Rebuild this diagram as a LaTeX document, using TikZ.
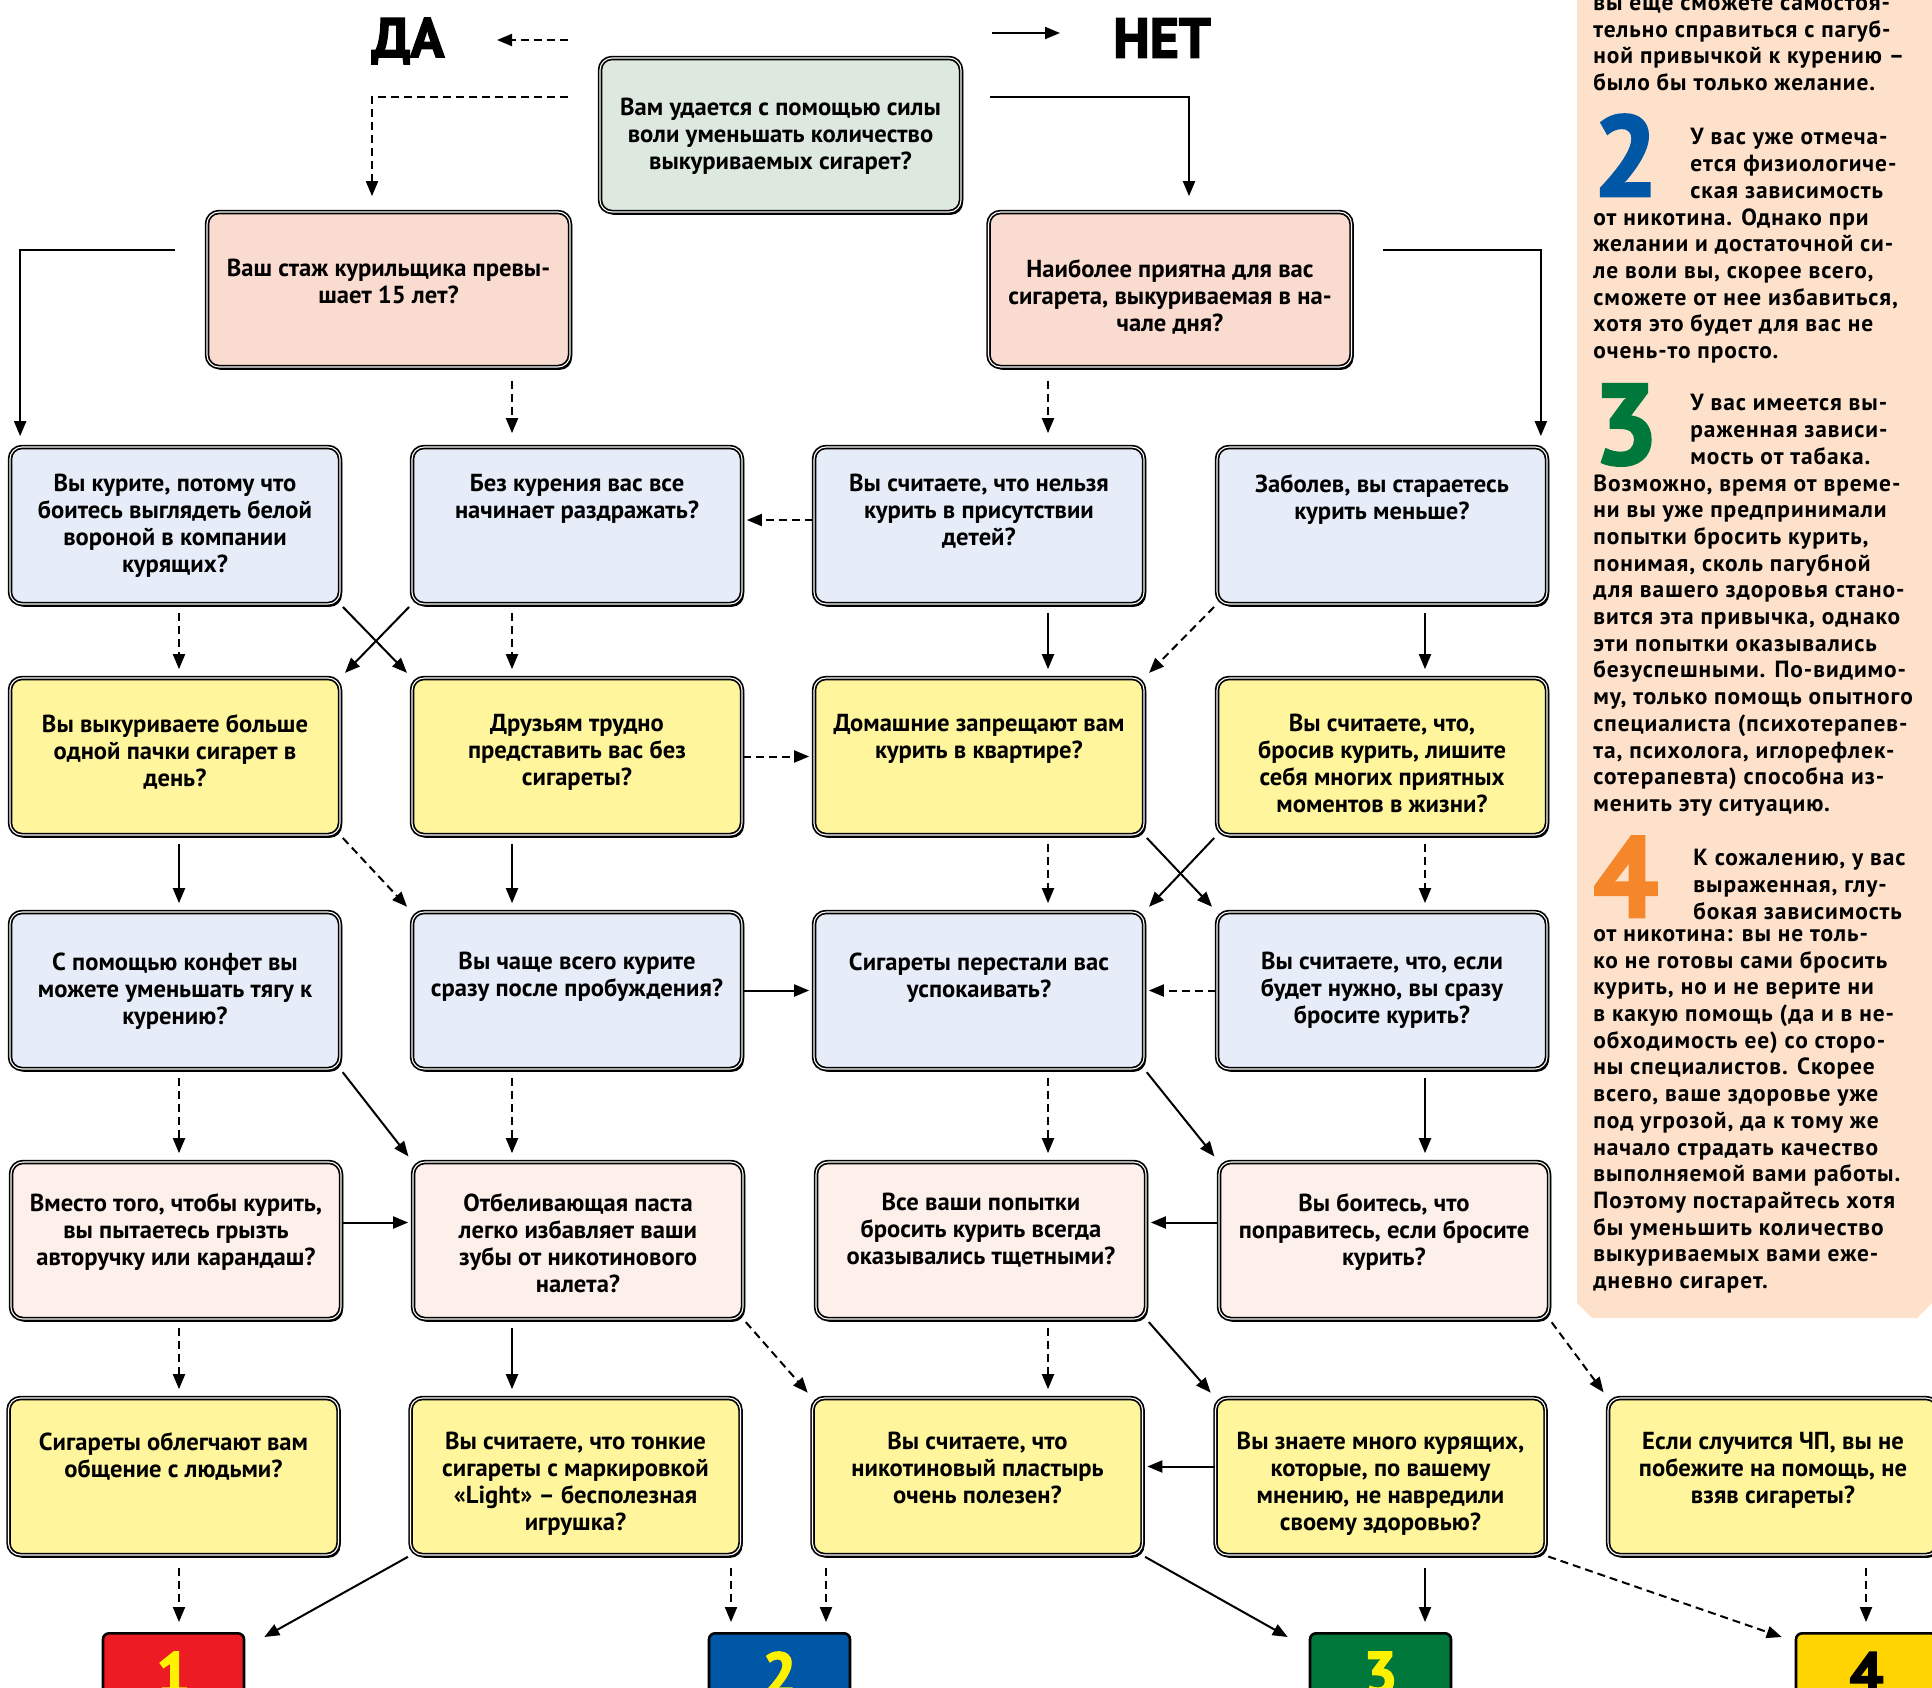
\documentclass[tikz,border=0pt]{standalone}
\usepackage{fontspec}
\setmainfont{PT Sans}
\newfontfamily\qfont{PT Sans}
\newfontfamily\sidefont[LetterSpace=4]{PT Sans}
\newfontfamily\heavyfont[FakeBold=2.5]{PT Sans}
\usetikzlibrary{arrows.meta,calc,shadows}
\definecolor{StartClr}{HTML}{DDE9DF}
\definecolor{PeachClr}{HTML}{FADBCF}
\definecolor{BlueClr}{HTML}{E6EDF8}
\definecolor{YellowClr}{HTML}{FFF59C}
\definecolor{PinkClr}{HTML}{FDEFEA}
\definecolor{SideClr}{HTML}{FDE1CA}
\definecolor{OneClr}{HTML}{ED1C24}
\definecolor{TwoClr}{HTML}{0057A6}
\definecolor{ThreeClr}{HTML}{00783C}
\definecolor{FourClr}{HTML}{FFD400}
\definecolor{DigitClr}{HTML}{FFF200}
\definecolor{OrangeClr}{HTML}{F5862A}

\newcommand\qtxt[3][160pt]{\parbox[c][77pt][t]{#1}{\centering\vspace*{#2}#3\par}}

\begin{document}
\begin{tikzpicture}[x=.5pt,y=-.5pt,
  qbox/.style={draw,rounded corners=6pt,line width=.85pt,double=white,double distance=.55pt,
    minimum width=165pt,minimum height=78.5pt,inner sep=0pt,
    font=\qfont\bfseries\fontsize{12.3}{13.5}\selectfont,
    drop shadow={shadow xshift=1pt,shadow yshift=-1.4pt,opacity=1,fill=black}},
  rbox/.style={draw,rounded corners=3pt,line width=1.3pt,minimum width=70.5pt,minimum height=40pt,
    inner sep=0pt,anchor=north,font=\heavyfont\bfseries\fontsize{30}{30}\selectfont},
  side/.style={font=\sidefont\bfseries\fontsize{11.7}{13.35}\selectfont,align=left,inner sep=0pt,anchor=north west},
  bignum/.style={font=\heavyfont\bfseries\fontsize{57}{57}\selectfont,inner sep=0pt,anchor=base west},
  arr/.style={line width=1pt,-{Triangle[length=7.5pt,width=6pt]},shorten <=4pt,shorten >=4pt},
  arrd/.style={arr,dash pattern=on 4pt off 2.5pt},
  diag/.style={shorten <=1.5pt,shorten >=3pt}]
\useasboundingbox (0,0) rectangle (1932,1687);
\clip (0,0) rectangle (1932,1687);

% side bar
\fill[SideClr] (1577,-5) -- (1577,1303) -- (1592,1318) -- (1917,1318) -- (1932,1303) -- (1932,-5) -- cycle;
\node[side] (s1) at (1593,-2) {вы еще сможете самостоя-\\тельно справиться с пагуб-\\ной привычкой к курению –\\было бы только желание.};
\node[bignum,text=TwoClr] (n2) at (1593,196) {2};
\node[side] (s2a) at (1690,128) {У вас уже отмеча-\\ется физиологиче-\\ская зависимость};
\node[side] (s2b) at (1593,208) {от никотина. Однако при\\желании и достаточной си-\\ле воли вы, скорее всего,\\сможете от нее избавиться,\\хотя это будет для вас не\\очень-то просто.};
\node[bignum,text=ThreeClr] (n3) at (1593,464) {3};
\node[side] (s3a) at (1690,394) {У вас имеется вы-\\раженная зависи-\\мость от табака.};
\node[side] (s3b) at (1593,474) {Возможно, время от време-\\ни вы уже предпринимали\\попытки бросить курить,\\понимая, сколь пагубной\\для вашего здоровья стано-\\вится эта привычка, однако\\эти попытки оказывались\\безуспешными. По-видимо-\\му, только помощь опытного\\специалиста (психотерапев-\\та, психолога, иглорефлек-\\сотерапевта) способна из-\\менить эту ситуацию.};
\node[bignum,text=OrangeClr] (n4) at (1593,917) {4};
\node[side] (s4a) at (1693,849) {К сожалению, у вас\\выраженная, глу-\\бокая зависимость};
\node[side] (s4b) at (1593,929) {от никотина: вы не толь-\\ко не готовы сами бросить\\курить, но и не верите ни\\в какую помощь (да и в не-\\обходимость ее) со сторо-\\ны специалистов. Скорее\\всего, ваше здоровье уже\\под угрозой, да к тому же\\начало страдать качество\\выполняемой вами работы.\\Поэтому постарайтесь хотя\\бы уменьшить количество\\выкуриваемых вами еже-\\дневно сигарет.};

% yes / no
\node[font=\heavyfont\bfseries\fontsize{28}{28}\selectfont,inner sep=0pt] (yes) at (408,41) {ДА};
\node[font=\heavyfont\bfseries\fontsize{28}{28}\selectfont,inner sep=0pt] (no) at (1162,38) {НЕТ};

% questions
\node[qbox,fill=StartClr,minimum width=180.5pt,minimum height=77pt] (q0) at (780.5,135) {\qtxt[176pt]{20pt}{Вам удается с помощью силы\\воли уменьшать количество\\выкуриваемых сигарет?}};
\node[qbox,fill=PeachClr,minimum width=181.5pt,minimum height=77.5pt] (b01) at (388.5,289.5) {\qtxt[176pt]{23.5pt}{Ваш стаж курильщика превы-\\шает 15 лет?}};
\node[qbox,fill=PeachClr,minimum width=181.5pt,minimum height=77.5pt] (b02) at (1170,289.5) {\qtxt[176pt]{23.5pt}{Наиболее приятна для вас\\сигарета, выкуриваемая в на-\\чале дня?}};

\node[qbox,fill=BlueClr] (b21) at (175,525.5) {\qtxt{13pt}{Вы курите, потому что\\боитесь выглядеть белой\\вороной в компании\\курящих?}};
\node[qbox,fill=BlueClr] (b22) at (577,525.5) {\qtxt{13pt}{Без курения вас все\\начинает раздражать?}};
\node[qbox,fill=BlueClr] (b23) at (979,525.5) {\qtxt{13pt}{Вы считаете, что нельзя\\курить в присутствии\\детей?}};
\node[qbox,fill=BlueClr] (b24) at (1382,525.5) {\qtxt{13pt}{Заболев, вы стараетесь\\курить меньше?}};

\node[qbox,fill=YellowClr] (b31) at (175,756.5) {\qtxt{17.5pt}{Вы выкуриваете больше\\одной пачки сигарет в\\день?}};
\node[qbox,fill=YellowClr] (b32) at (577,756.5) {\qtxt{17.5pt}{Друзьям трудно\\представить вас без\\сигареты?}};
\node[qbox,fill=YellowClr] (b33) at (979,756.5) {\qtxt{17.5pt}{Домашние запрещают вам\\курить в квартире?}};
\node[qbox,fill=YellowClr] (b34) at (1382,756.5) {\qtxt{17.5pt}{Вы считаете, что,\\бросив курить, лишите\\себя многих приятных\\моментов в жизни?}};

\node[qbox,fill=BlueClr] (b41) at (175,990.5) {\qtxt{19.5pt}{С помощью конфет вы\\можете уменьшать тягу к\\курению?}};
\node[qbox,fill=BlueClr] (b42) at (577,990.5) {\qtxt{19.5pt}{Вы чаще всего курите\\сразу после пробуждения?}};
\node[qbox,fill=BlueClr] (b43) at (979,990.5) {\qtxt{19.5pt}{Сигареты перестали вас\\успокаивать?}};
\node[qbox,fill=BlueClr] (b44) at (1382,990.5) {\qtxt{19.5pt}{Вы считаете, что, если\\будет нужно, вы сразу\\бросите курить?}};

\node[qbox,fill=PinkClr] (b51) at (176,1240.5) {\qtxt{15pt}{Вместо того, чтобы курить,\\вы пытаетесь грызть\\авторучку или карандаш?}};
\node[qbox,fill=PinkClr] (b52) at (578,1240.5) {\qtxt{15pt}{Отбеливающая паста\\легко избавляет ваши\\зубы от никотинового\\налета?}};
\node[qbox,fill=PinkClr] (b53) at (981,1240.5) {\qtxt{15pt}{Все ваши попытки\\бросить курить всегда\\оказывались тщетными?}};
\node[qbox,fill=PinkClr] (b54) at (1384,1240.5) {\qtxt{15pt}{Вы боитесь, что\\поправитесь, если бросите\\курить?}};

\node[qbox,fill=YellowClr] (b61) at (173.5,1476.5) {\qtxt{16.5pt}{Сигареты облегчают вам\\общение с людьми?}};
\node[qbox,fill=YellowClr] (b62) at (575.5,1476.5) {\qtxt{16.5pt}{Вы считаете, что тонкие\\сигареты с маркировкой\\«Light» – бесполезная\\игрушка?}};
\node[qbox,fill=YellowClr] (b63) at (977.5,1476.5) {\qtxt{16.5pt}{Вы считаете, что\\никотиновый пластырь\\очень полезен?}};
\node[qbox,fill=YellowClr] (b64) at (1380.5,1476.5) {\qtxt{16.5pt}{Вы знаете много курящих,\\которые, по вашему\\мнению, не навредили\\своему здоровью?}};
\node[qbox,fill=YellowClr] (b65) at (1773,1476.5) {\qtxt{16.5pt}{Если случится ЧП, вы не\\побежите на помощь, не\\взяв сигареты?}};

% results
\node[rbox,fill=OneClr,text=DigitClr] (r1) at (173.5,1632) {1};
\node[rbox,fill=TwoClr,text=DigitClr] (r2) at (779.5,1632) {2};
\node[rbox,fill=ThreeClr,text=DigitClr] (r3) at (1380.5,1632) {3};
\node[rbox,fill=FourClr,text=black] (r4) at (1866.5,1632) {4};

% arrow columns and free ends
\coordinate (ca) at (179,0);
\coordinate (cb) at (512,0);
\coordinate (cc) at (1048,0);
\coordinate (cd) at (1425,0);
\coordinate (ce) at (731,0);
\coordinate (cf) at (826,0);
\coordinate (cg) at (1866,0);
\coordinate (yesA) at (568,40);
\coordinate (yesB) at (497,40);
\coordinate (noA) at (992,33);
\coordinate (noB) at (1060,33);
\coordinate (yesL) at (568,97);
\coordinate (noL) at (990,97);
\coordinate (yesL2) at (175,250);
\coordinate (noL2) at (1383,250);

\draw[arrd,shorten <=0pt,shorten >=0pt] (yesA) -- (yesB);
\draw[arr,shorten <=0pt,shorten >=0pt] (noA) -- (noB);
\draw[arrd,shorten <=0pt,shorten >=7.5pt] (yesL) -| ([xshift=-8.25pt]b01.north);
\draw[arr,shorten <=0pt,shorten >=7.5pt] (noL) -| ([xshift=9.5pt]b02.north);
\draw[arr,shorten <=0pt,shorten >=5pt] (yesL2) -| ([xshift=5.5pt]b21.north west);
\draw[arr,shorten <=0pt,shorten >=5pt] (noL2) -| ([xshift=-3.5pt]b24.north east);
\draw[arrd,shorten <=6.5pt,shorten >=6.5pt] (b01.south -| cb) -- (b22.north -| cb);
\draw[arrd,shorten <=6.5pt,shorten >=6.5pt] (b02.south -| cc) -- (b23.north -| cc);

% row 2
\draw[arrd,shorten <=0pt,shorten >=2pt] ([yshift=2.75pt]b23.west) -- ([yshift=2.75pt]b22.east);
\draw[arrd] (b21.south -| ca) -- (b31.north -| ca);
\draw[arrd] (b22.south -| cb) -- (b32.north -| cb);
\draw[arr,diag] (b21.south east) -- (b32.north west);
\draw[arr,diag] (b22.south west) -- (b31.north east);
\draw[arr] (b23.south -| cc) -- (b33.north -| cc);
\draw[arrd,diag] (b24.south west) -- (b33.north east);
\draw[arr] (b24.south -| cd) -- (b34.north -| cd);

% row 3
\draw[arrd,shorten <=0pt,shorten >=2pt] (b32.east) -- (b33.west);
\draw[arr] (b31.south -| ca) -- (b41.north -| ca);
\draw[arrd,diag] (b31.south east) -- (b42.north west);
\draw[arr] (b32.south -| cb) -- (b42.north -| cb);
\draw[arrd] (b33.south -| cc) -- (b43.north -| cc);
\draw[arr,diag] (b33.south east) -- (b44.north west);
\draw[arr,diag] (b34.south west) -- (b43.north east);
\draw[arrd] (b34.south -| cd) -- (b44.north -| cd);

% row 4
\draw[arr,shorten <=0pt,shorten >=2pt] (b42.east) -- (b43.west);
\draw[arrd,shorten <=0pt,shorten >=2pt] (b44.west) -- (b43.east);
\draw[arrd] (b41.south -| ca) -- (b51.north -| ca);
\draw[arr,diag] (b41.south east) -- (b52.north west);
\draw[arrd] (b42.south -| cb) -- (b52.north -| cb);
\draw[arrd] (b43.south -| cc) -- (b53.north -| cc);
\draw[arr,diag] (b43.south east) -- (b54.north west);
\draw[arr] (b44.south -| cd) -- (b54.north -| cd);

% row 5
\draw[arr,shorten <=0pt,shorten >=2pt] ([yshift=9pt]b51.east) -- ([yshift=9pt]b52.west);
\draw[arr,shorten <=0pt,shorten >=2pt] ([yshift=9pt]b54.west) -- ([yshift=9pt]b53.east);
\draw[arrd] (b51.south -| ca) -- (b61.north -| ca);
\draw[arr] (b52.south -| cb) -- (b62.north -| cb);
\draw[arrd,diag] (b52.south east) -- (b63.north west);
\draw[arrd] (b53.south -| cc) -- (b63.north -| cc);
\draw[arr,diag] (b53.south east) -- (b64.north west);
\draw[arrd,diag] (b54.south east) -- (b65.north west);

% row 6
\draw[arr,shorten <=0pt,shorten >=2pt] ([yshift=5pt]b64.west) -- ([yshift=5pt]b63.east);
\draw[arrd,shorten <=6pt,shorten >=5pt] (b61.south -| ca) -- (r1.north -| ca);
\draw[arr,shorten <=1pt,shorten >=0pt] (b62.south west) -- ([xshift=9.5pt,yshift=-2.5pt]r1.north east);
\draw[arrd,shorten <=6pt,shorten >=5pt] (b62.south -| ce) -- (r2.north -| ce);
\draw[arrd,shorten <=6pt,shorten >=5pt] (b63.south -| cf) -- (r2.north -| cf);
\draw[arr,shorten <=1pt,shorten >=0pt] (b63.south east) -- ([xshift=-10.5pt,yshift=-2.5pt]r3.north west);
\draw[arr,shorten <=6pt,shorten >=5pt] (b64.south -| cd) -- (r3.north -| cd);
\draw[arrd,shorten <=1pt,shorten >=0pt] (b64.south east) -- ([xshift=-6.5pt,yshift=-2.5pt]r4.north west);
\draw[arrd,shorten <=6pt,shorten >=5pt] (b65.south -| cg) -- (r4.north -| cg);
\end{tikzpicture}
\end{document}
